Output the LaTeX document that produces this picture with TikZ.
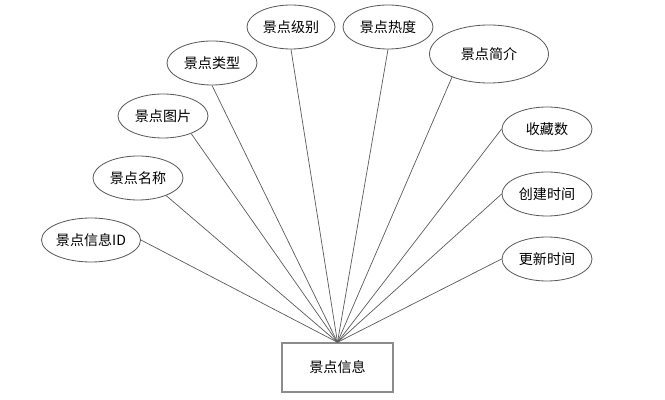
\documentclass[tikz,border=0pt]{standalone}
\usepackage{fontspec}
\setmainfont{Noto Sans CJK SC}
\usepackage{tikz}
\usetikzlibrary{shapes.geometric, positioning}
\definecolor{edgegray}{RGB}{90, 90, 90}
\definecolor{boxgray}{RGB}{140, 140, 140}

\tikzset{
    attr/.style={ellipse, draw=edgegray, line width=0.7pt, inner sep=0pt,
        minimum width=2.7cm, minimum height=1.32cm, font=\fontsize{12}{14}\selectfont},
    entity/.style={rectangle, draw=boxgray, line width=1.2pt, inner sep=0pt,
        minimum width=3.33cm, minimum height=1.47cm, font=\fontsize{12}{14}\selectfont},
    link/.style={draw=edgegray, line width=0.6pt}
}

\begin{document}
\begin{tikzpicture}[x=0.03cm, y=-0.03cm]
    \useasboundingbox (0,0) rectangle (665,400);

    % Entity
    \node[entity] (info) at (337.5, 367.5) {景点信息};

    % Attributes, left side
    \node[attr, minimum width=2.76cm] (infoid) at (91, 240) {景点信息ID};
    \node[attr] (name) at (138, 178) {景点名称};
    \node[attr] (pic) at (163, 116) {景点图片};
    \node[attr] (type) at (212, 63) {景点类型};
    \node[attr, minimum width=2.64cm] (level) at (291, 27) {景点级别};

    % Attributes, right side
    \node[attr] (heat) at (388, 27) {景点热度};
    \node[attr, minimum width=3.57cm, minimum height=1.74cm] (intro) at (489, 54) {景点简介};
    \node[attr] (fav) at (547, 129) {收藏数};
    \node[attr] (created) at (547, 194) {创建时间};
    \node[attr] (updated) at (547, 259) {更新时间};

    % Connectors
    \draw[link] (infoid.east) -- (info.north);
    \draw[link] (name.-32) -- (info.north);
    \draw[link] (pic.-32) -- (info.north);
    \draw[link] (type.south) -- (info.north);
    \draw[link] (level.south) -- (info.north);
    \draw[link] (heat.south) -- (info.north);
    \draw[link] (intro.-148) -- (info.north);
    \draw[link] (fav.west) -- (info.north);
    \draw[link] (created.west) -- (info.north);
    \draw[link] (updated.west) -- (info.north);
\end{tikzpicture}
\end{document}
